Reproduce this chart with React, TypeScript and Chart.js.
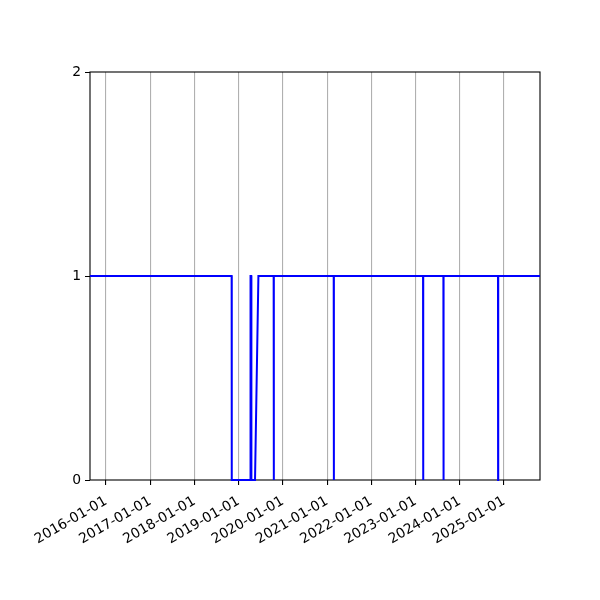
import { useEffect, useRef } from "react";
import { Chart, registerables, Plugin } from "chart.js";

Chart.register(...registerables);

// vertices of the series (date, value)
const DATES = [
    "2015-08-22",
    "2018-11-04", "2018-11-05",
    "2019-04-08", "2019-04-09",
    "2019-04-15", "2019-04-16",
    "2019-05-16", "2019-06-13",
    "2019-10-17", "2019-10-18", "2019-10-19",
    "2021-02-24", "2021-02-25", "2021-02-26",
    "2023-03-04", "2023-03-05", "2023-03-06",
    "2023-08-19", "2023-08-20", "2023-08-21",
    "2024-11-12", "2024-11-13", "2024-11-14",
    "2025-10-25",
];
const VALUES = [
    1,
    1, 0,
    0, 1,
    1, 0,
    0, 1,
    1, 0, 1,
    1, 0, 1,
    1, 0, 1,
    1, 0, 1,
    1, 0, 1,
    1,
];
const TICK_LABELS = [
    "2016-01-01", "2017-01-01", "2018-01-01", "2019-01-01", "2020-01-01",
    "2021-01-01", "2022-01-01", "2023-01-01", "2024-01-01", "2025-01-01",
];
const Y_TICKS = [0, 1, 2];

const FONT = { family: "'DejaVu Sans', sans-serif", size: 13.9 };

// axes frame drawn under the line
const frame: Plugin = {
    id: "frame",
    beforeDatasetsDraw(chart) {
        const { ctx, chartArea: a } = chart;
        ctx.save();
        ctx.strokeStyle = "#000";
        ctx.lineWidth = 1.1;
        ctx.strokeRect(a.left, a.top, a.right - a.left, a.bottom - a.top);
        ctx.restore();
    },
};

export default function App() {
    const canvasRef = useRef<HTMLCanvasElement>(null);

    useEffect(() => {
        if (!canvasRef.current) return;
        const points = DATES.map((d, i) => ({ x: Date.parse(d), y: VALUES[i] }));
        const tickValues = TICK_LABELS.map((t) => Date.parse(t));

        const chart = new Chart(canvasRef.current, {
            type: "line",
            data: {
                datasets: [
                    {
                        data: points,
                        borderColor: "#0000ff",
                        borderWidth: 2,
                        pointRadius: 0,
                        tension: 0,
                        fill: false,
                        clip: false,
                    },
                ],
            },
            options: {
                responsive: false,
                animation: false,
                layout: { padding: { top: 72, right: 60, left: 0, bottom: 0 } },
                plugins: { legend: { display: false }, tooltip: { enabled: false } },
                scales: {
                    x: {
                        type: "linear",
                        min: points[0].x,
                        max: points[points.length - 1].x,
                        afterBuildTicks: (scale) => {
                            scale.ticks = tickValues.map((v) => ({ value: v }));
                        },
                        afterFit: (scale) => {
                            scale.height = 120;
                        },
                        ticks: {
                            autoSkip: false,
                            maxRotation: 30,
                            minRotation: 30,
                            padding: 8,
                            color: "#000",
                            font: FONT,
                            callback: (v) => {
                                const i = tickValues.indexOf(Number(v));
                                return i >= 0 ? TICK_LABELS[i] : "";
                            },
                        },
                        grid: {
                            color: "#b0b0b0",
                            lineWidth: 1.1,
                            tickColor: "#000",
                            tickLength: 5,
                        },
                        border: { display: false },
                    },
                    y: {
                        min: 0,
                        max: 2,
                        afterBuildTicks: (scale) => {
                            scale.ticks = Y_TICKS.map((v) => ({ value: v }));
                        },
                        afterFit: (scale) => {
                            scale.width = 90;
                        },
                        ticks: { color: "#000", font: FONT, padding: 4 },
                        grid: {
                            drawOnChartArea: false,
                            tickColor: "#000",
                            tickLength: 5,
                        },
                        border: { display: false },
                    },
                },
            },
            plugins: [frame],
        });

        return () => {
            chart.destroy();
        };
    }, []);

    return (
        <div style={{ position: "absolute", left: 0, top: 0, width: 600, height: 600, background: "#fff" }}>
            <canvas ref={canvasRef} width={600} height={600} role="img" aria-label="Step line chart of values 0 and 1 over time" />
        </div>
    );
}
